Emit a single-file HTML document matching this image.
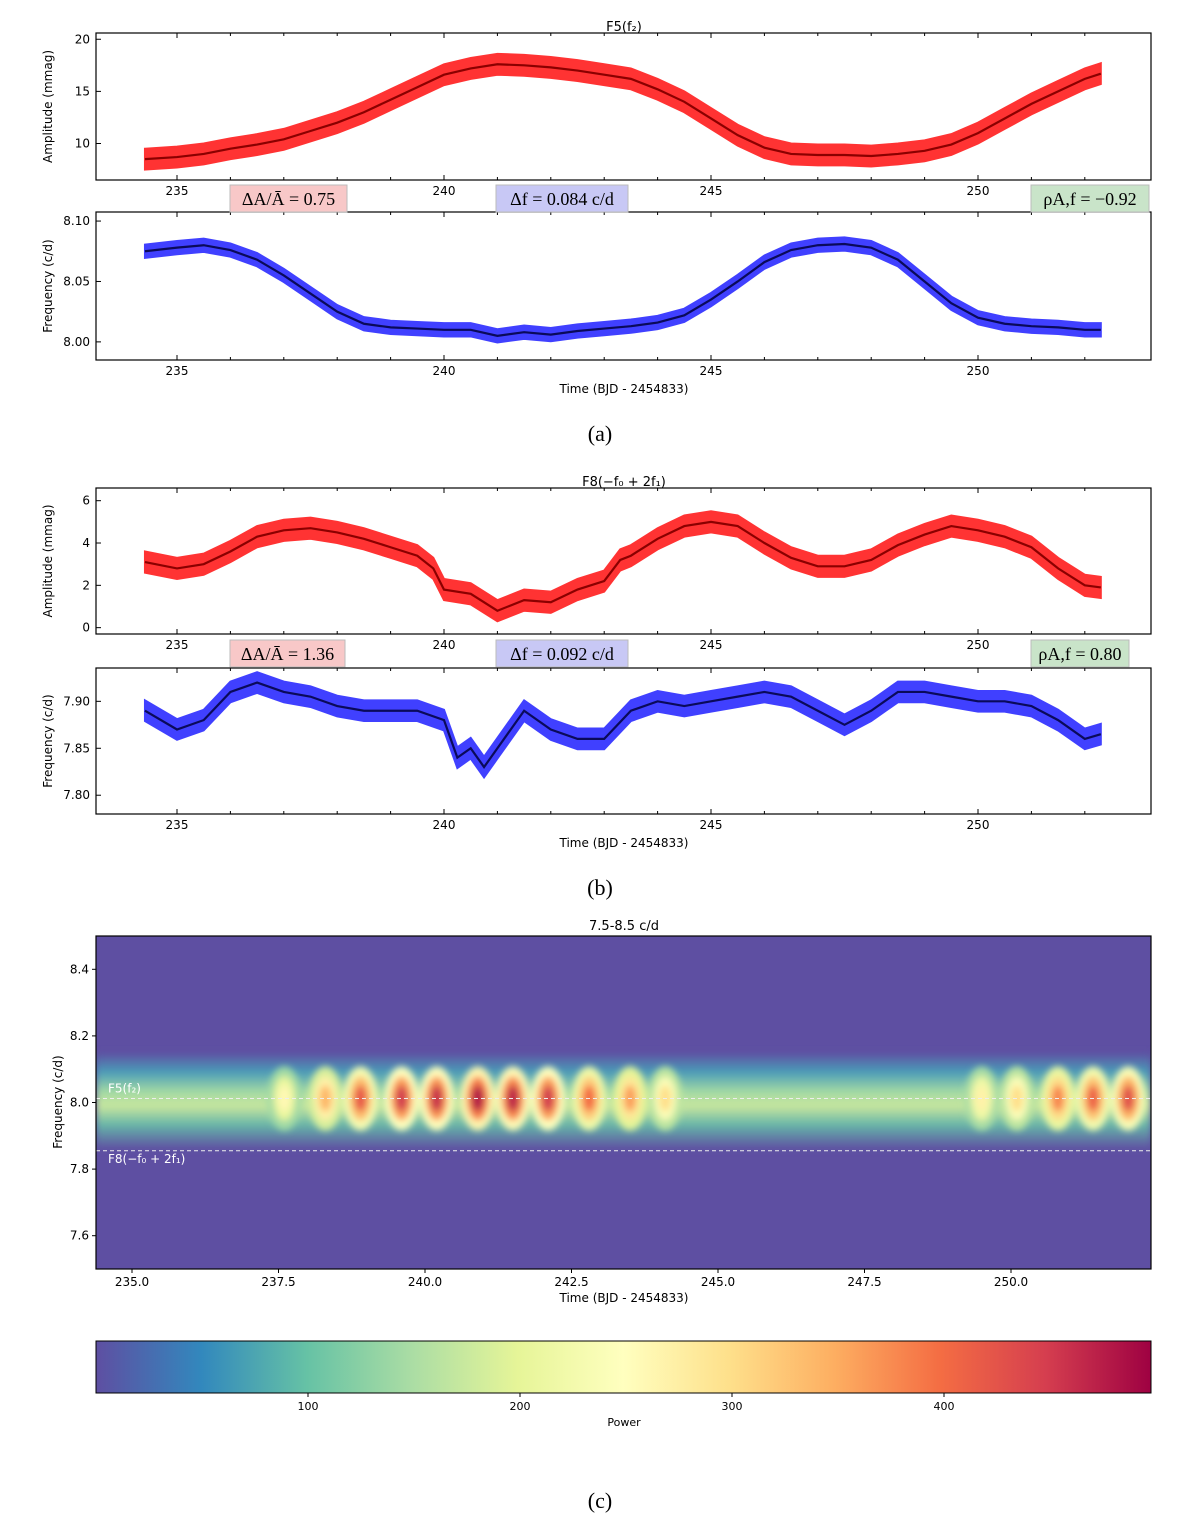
<!DOCTYPE html>
<html><head><meta charset="utf-8"><style>
body{margin:0;background:#fff}
svg text{font-family:"DejaVu Sans","Liberation Sans",sans-serif;fill:#000}
.ser{font-family:"Liberation Serif",serif}
</style></head><body>
<svg id="fig" xmlns="http://www.w3.org/2000/svg" width="1200" height="1523" viewBox="0 0 1200 1523">
<defs>
<linearGradient id="cmap" x1="0" x2="1" y1="0" y2="0">
<stop offset="0" stop-color="#5e4fa2"/><stop offset="0.1" stop-color="#3288bd"/><stop offset="0.2" stop-color="#66c2a5"/><stop offset="0.3" stop-color="#abdda4"/><stop offset="0.4" stop-color="#e6f598"/><stop offset="0.5" stop-color="#ffffbf"/><stop offset="0.6" stop-color="#fee08b"/><stop offset="0.7" stop-color="#fdae61"/><stop offset="0.8" stop-color="#f46d43"/><stop offset="0.9" stop-color="#d53e4f"/><stop offset="1" stop-color="#9e0142"/>
</linearGradient>
<linearGradient id="band" x1="0" x2="0" y1="0" y2="1">
<stop offset="0" stop-color="#5e4fa2"/><stop offset="0.2" stop-color="#4a9bb8"/><stop offset="0.4" stop-color="#9fd8a4"/><stop offset="0.55" stop-color="#c9e79e"/><stop offset="0.75" stop-color="#66b5a8"/><stop offset="1" stop-color="#5e4fa2"/>
</linearGradient>
<filter id="blur" x="-50%" y="-50%" width="200%" height="200%"><feGaussianBlur stdDeviation="3.5"/></filter>
<clipPath id="hmclip"><rect x="96" y="936" width="1055" height="333"/></clipPath>
</defs>
<g id="root"></g>
</svg>
<script>
// ---- data ----
const ampATimes=[234.4,235,235.5,236,236.5,237,237.5,238,238.5,239,239.5,240,240.5,241,241.5,242,242.5,243,243.5,244,244.5,245,245.5,246,246.5,247,247.5,248,248.5,249,249.5,250,250.5,251,251.5,252,252.3];
const ampAValues=[8.5,8.7,9.0,9.5,9.9,10.4,11.2,12.0,13.0,14.2,15.4,16.6,17.2,17.6,17.5,17.3,17.0,16.6,16.2,15.2,14.0,12.4,10.8,9.6,9.0,8.9,8.9,8.8,9.0,9.3,9.9,11.0,12.4,13.8,15.0,16.2,16.7];
const freqAValues=[8.075,8.078,8.080,8.076,8.068,8.055,8.040,8.025,8.015,8.012,8.011,8.010,8.010,8.005,8.008,8.006,8.009,8.011,8.013,8.016,8.022,8.035,8.050,8.066,8.076,8.080,8.081,8.078,8.068,8.050,8.032,8.020,8.015,8.013,8.012,8.010,8.010];
const ampBTimes=[234.4,235,235.5,236,236.5,237,237.5,238,238.5,239,239.5,239.8,240,240.5,241,241.5,242,242.5,243,243.3,243.5,244,244.5,245,245.5,246,246.5,247,247.5,248,248.5,249,249.5,250,250.5,251,251.5,252,252.3];
const ampBValues=[3.1,2.8,3.0,3.6,4.3,4.6,4.7,4.5,4.2,3.8,3.4,2.8,1.8,1.6,0.8,1.3,1.2,1.8,2.2,3.2,3.4,4.2,4.8,5.0,4.8,4.0,3.3,2.9,2.9,3.2,3.9,4.4,4.8,4.6,4.3,3.8,2.8,2.0,1.9];
const freqBTimes=[234.4,235,235.5,236,236.5,237,237.5,238,238.5,239,239.5,240,240.25,240.5,240.75,241,241.25,241.5,242,242.5,243,243.5,244,244.5,245,245.5,246,246.5,247,247.5,248,248.5,249,249.5,250,250.5,251,251.5,252,252.3];
const freqBValues=[7.89,7.87,7.88,7.91,7.92,7.91,7.905,7.895,7.89,7.89,7.89,7.88,7.84,7.85,7.83,7.85,7.87,7.89,7.87,7.86,7.86,7.89,7.90,7.895,7.90,7.905,7.91,7.905,7.89,7.875,7.89,7.91,7.91,7.905,7.90,7.90,7.895,7.88,7.86,7.865];
const blobTimes=[237.6,238.3,238.9,239.6,240.2,240.9,241.5,242.1,242.8,243.5,244.1,249.5,250.1,250.8,251.4,252.0];
const blobPowers=[260,340,420,450,460,480,470,450,400,360,300,270,300,380,410,430];
const timeTicks=[235,240,245,250];
const hmTicks=[235,237.5,240,242.5,245,247.5,250];
const cbTicks=[100,200,300,400];

const NS='http://www.w3.org/2000/svg';
const root=document.getElementById('root');
function mk(tag,attrs,parent){const e=document.createElementNS(NS,tag);for(const k in attrs)e.setAttribute(k,attrs[k]);(parent||root).appendChild(e);return e;}
function txt(x,y,s,size,anchor,name,extra){const t=mk('text',Object.assign({x:x,y:y,'font-size':size,'text-anchor':anchor||'middle'},extra||{}));t.textContent=s;


return t;}

const tx=t=>177+(t-235)*53.4;
const X0=96,X1=1151;

function panel(top,bot,ymin,ymax,yticks,yfmt,times,vals,err,fill,line,ylabel,name,xlabelY){
  const ys=v=>bot-(v-ymin)/(ymax-ymin)*(bot-top);
  const g=mk('g',{});
  
  
  let up=times.map((t,i)=>tx(t)+','+ys(vals[i]+err)).join(' ');
  let dn=times.map((t,i)=>tx(t)+','+ys(vals[i]-err)).reverse().join(' ');
  const b=mk('polygon',{points:up+' '+dn,fill:fill,stroke:fill,'stroke-width':2},g);
  
  
  const l=mk('polyline',{points:times.map((t,i)=>tx(t)+','+ys(vals[i])).join(' '),fill:'none',stroke:line,'stroke-width':2.2},g);
  
  
  const fr=mk('rect',{x:X0,y:top,width:X1-X0,height:bot-top,fill:'none',stroke:'#000','stroke-width':1.2},g);
  
  
  for(let d=235;d<=252;d++){const x=tx(d);const L=(d%5==0)?5:3;
    mk('line',{x1:x,x2:x,y1:bot,y2:bot-L,stroke:'#000'},g);mk('line',{x1:x,x2:x,y1:top,y2:top+L,stroke:'#000'},g);}
  timeTicks.forEach(t=>txt(tx(t),bot+15,String(t),12,'middle','x-tick-label'));
  yticks.forEach(v=>{const y=ys(v);mk('line',{x1:X0,x2:X0+5,y1:y,y2:y,stroke:'#000'},g);txt(X0-6,y+4,yfmt(v),12,'end','y-tick-label');});
  txt(52,(top+bot)/2,ylabel,12,'middle','y-axis-title',{transform:'rotate(-90 52 '+(top+bot)/2+')'});
  if(xlabelY)txt(624,xlabelY,'Time (BJD - 2454833)',12,'middle','x-axis-title');
}
function box(x,y,w,h,col,s,name){const r=mk('rect',{x:x,y:y,width:w,height:h,fill:col,stroke:'#bbb'});
  
  
  txt(x+w/2,y+h-7,s,18,'middle',name,{class:'ser'});}

// (a)
txt(624,31,'F5(f₂)',13,'middle','panel-a-title');
panel(33,180,6.5,20.6,[10,15,20],v=>String(v),ampATimes,ampAValues,1.0,'#ff3333','#8b0000','Amplitude (mmag)','panel-a-amplitude',0);
panel(212,360,7.985,8.1075,[8.00,8.05,8.10],v=>v.toFixed(2),ampATimes,freqAValues,0.0055,'#4040ff','#0a0a5a','Frequency (c/d)','panel-a-frequency',393);
box(230,185,117,27,'#f8c8c8','ΔA/Ā = 0.75','panel-a-amp-ratio');
box(496,185,132,27,'#c8c8f5','Δf = 0.084 c/d','panel-a-delta-f');
box(1031,185,118,27,'#c9e4c9','ρA,f = −0.92','panel-a-rho');
txt(600,441,'(a)',22,'middle','caption-a',{class:'ser'});

// (b)
txt(624,486,'F8(−f₀ + 2f₁)',13,'middle','panel-b-title');
panel(488,634,-0.3,6.6,[0,2,4,6],v=>String(v),ampBTimes,ampBValues,0.5,'#ff3333','#8b0000','Amplitude (mmag)','panel-b-amplitude',0);
panel(668,814,7.78,7.9355,[7.80,7.85,7.90],v=>v.toFixed(2),freqBTimes,freqBValues,0.011,'#4040ff','#0a0a5a','Frequency (c/d)','panel-b-frequency',847);
box(230,640,115,27,'#f8c8c8','ΔA/Ā = 1.36','panel-b-amp-ratio');
box(496,640,132,27,'#c8c8f5','Δf = 0.092 c/d','panel-b-delta-f');
box(1031,640,98,27,'#c9e4c9','ρA,f = 0.80','panel-b-rho');
txt(600,895,'(b)',22,'middle','caption-b',{class:'ser'});

// (c) heatmap
const hx=t=>132+(t-235)*58.6;
const hy=f=>936+(8.5-f)*333;
const cstops=[[94,79,162],[50,136,189],[102,194,165],[171,221,164],[230,245,152],[255,255,191],[254,224,139],[253,174,97],[244,109,67],[213,62,79],[158,1,66]];
function cmap(p){let v=Math.max(0,Math.min(1,p/498))*10;const i=Math.min(9,Math.floor(v)),f=v-i;const a=cstops[i],b=cstops[i+1];
  return 'rgb('+a.map((c,k)=>Math.round(c+(b[k]-c)*f)).join(',')+')';}
txt(624,930,'7.5-8.5 c/d',13,'middle','panel-c-title');
const hg=mk('g',{'clip-path':'url(#hmclip)'});


mk('rect',{x:96,y:936,width:1055,height:333,fill:'#5e4fa2'},hg);
mk('rect',{x:96,y:hy(8.15),width:1055,height:hy(7.86)-hy(8.15),fill:'url(#band)',filter:'url(#blur)'},hg);
const bg=mk('g',{filter:'url(#blur)'},hg);
blobTimes.forEach((t,i)=>{const p=blobPowers[i],x=hx(t),y=hy(8.012);
  const e1=mk('ellipse',{cx:x,cy:y,rx:17,ry:32,fill:cmap(p*0.55)},bg);
  
  
  mk('ellipse',{cx:x,cy:y,rx:11,ry:22,fill:cmap(p*0.8)},bg);
  mk('ellipse',{cx:x,cy:y,rx:6,ry:13,fill:cmap(p)},bg);});
[8.012,7.855].forEach(f=>{const l=mk('line',{x1:96,x2:1151,y1:hy(f),y2:hy(f),stroke:'#eee','stroke-dasharray':'4,3','stroke-width':1},hg);
  
  });
txt(108,hy(8.012)-6,'F5(f₂)',12,'start','label-f5',{style:'fill:#fff'});
txt(108,hy(7.855)+12,'F8(−f₀ + 2f₁)',12,'start','label-f8',{style:'fill:#fff'});
mk('rect',{x:96,y:936,width:1055,height:333,fill:'none',stroke:'#000','stroke-width':1.2});
hmTicks.forEach(t=>{const x=hx(t);mk('line',{x1:x,x2:x,y1:1269,y2:1273,stroke:'#000'});txt(x,1286,t.toFixed(1),12,'middle','x-tick-label');});
[7.6,7.8,8.0,8.2,8.4].forEach(f=>{const y=hy(f);mk('line',{x1:92,x2:96,y1:y,y2:y,stroke:'#000'});txt(89,y+4,f.toFixed(1),12,'end','y-tick-label');});
txt(624,1302,'Time (BJD - 2454833)',12,'middle','x-axis-title');
txt(62,1102,'Frequency (c/d)',12,'middle','y-axis-title',{transform:'rotate(-90 62 1102)'});
const cb=mk('rect',{x:96,y:1341,width:1055,height:52,fill:'url(#cmap)',stroke:'#000'});


cbTicks.forEach(v=>{const x=96+v*2.12;mk('line',{x1:x,x2:x,y1:1393,y2:1397,stroke:'#000'});txt(x,1410,String(v),11,'middle','colorbar-tick');});
txt(624,1426,'Power',11,'middle','colorbar-title');
txt(600,1508,'(c)',22,'middle','caption-c',{class:'ser'});
</script>
</body></html>
